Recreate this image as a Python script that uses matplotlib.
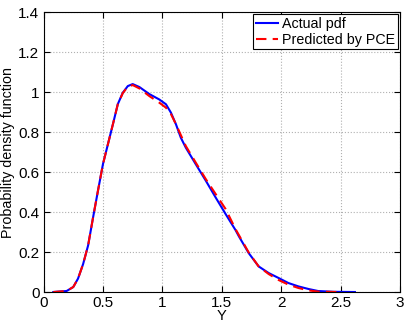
import matplotlib.pyplot as plt

plt.rcParams['font.family'] = ['Liberation Sans', 'DejaVu Sans']

# actual pdf
y_act = [0.082, 0.194, 0.25, 0.29, 0.333, 0.375, 0.417, 0.458, 0.5, 0.542, 0.584,
         0.625, 0.667, 0.709, 0.75, 0.807, 0.89, 0.974, 1.03, 1.072, 1.114, 1.155,
         1.197, 1.28, 1.365, 1.448, 1.532, 1.615, 1.645, 1.727, 1.81, 1.894, 1.978,
         2.06, 2.145, 2.23, 2.31, 2.44, 2.62]
p_act = [0.0, 0.005, 0.025, 0.067, 0.14, 0.233, 0.374, 0.507, 0.64, 0.74, 0.84,
         0.94, 0.997, 1.03, 1.04, 1.025, 0.99, 0.963, 0.939, 0.897, 0.839, 0.772,
         0.722, 0.64, 0.557, 0.473, 0.39, 0.31, 0.277, 0.194, 0.128, 0.095, 0.07,
         0.045, 0.028, 0.015, 0.005, 0.001, 0.0]

# predicted by PCE
y_pce = [0.082, 0.194, 0.25, 0.29, 0.333, 0.375, 0.417, 0.458, 0.5, 0.542, 0.584,
         0.625, 0.667, 0.709, 0.75, 0.807, 0.89, 0.974, 1.03, 1.072, 1.114, 1.197,
         1.28, 1.365, 1.448, 1.532, 1.615, 1.727, 1.81, 1.894, 1.978, 2.06, 2.145,
         2.23, 2.31, 2.48]
p_pce = [0.0, 0.005, 0.025, 0.067, 0.14, 0.233, 0.374, 0.507, 0.64, 0.74, 0.84,
         0.94, 0.995, 1.027, 1.035, 1.018, 0.98, 0.947, 0.922, 0.89, 0.839, 0.73,
         0.648, 0.565, 0.49, 0.415, 0.315, 0.197, 0.128, 0.09, 0.06, 0.037, 0.02,
         0.008, 0.002, 0.0]

fig = plt.figure(figsize=(4.07, 3.27), dpi=100)
ax = fig.add_axes([0.107, 0.107, 0.876, 0.856])

ax.plot(y_act, p_act, color='blue', lw=1.5, label='Actual pdf')
ax.plot(y_pce, p_pce, color='red', lw=1.5, ls=(0, (5, 3)), label='Predicted by PCE')

ax.set_xlim(0, 3)
ax.set_ylim(0, 1.4)
ax.set_xticks([0, 0.5, 1, 1.5, 2, 2.5, 3])
ax.set_xticklabels(['0', '0.5', '1', '1.5', '2', '2.5', '3'])
ax.set_yticks([0, 0.2, 0.4, 0.6, 0.8, 1, 1.2, 1.4])
ax.set_yticklabels(['0', '0.2', '0.4', '0.6', '0.8', '1', '1.2', '1.4'])
ax.tick_params(direction='in', labelsize=11, length=4, top=True, right=True, pad=3)
ax.grid(True, ls=':', color='#b0b0b0', lw=0.8)

ax.set_xlabel('Y', fontsize=10.5, labelpad=-1)
ax.set_ylabel('Probability density function', fontsize=10.3, labelpad=2)

leg = ax.legend(loc='upper right', fontsize=10.3, fancybox=False, framealpha=1,
                edgecolor='black', borderaxespad=0.15, handlelength=1.5,
                handletextpad=0.3, borderpad=0.2, labelspacing=0.1)
leg.get_frame().set_linewidth(0.8)

plt.savefig('out.png', dpi=100)
